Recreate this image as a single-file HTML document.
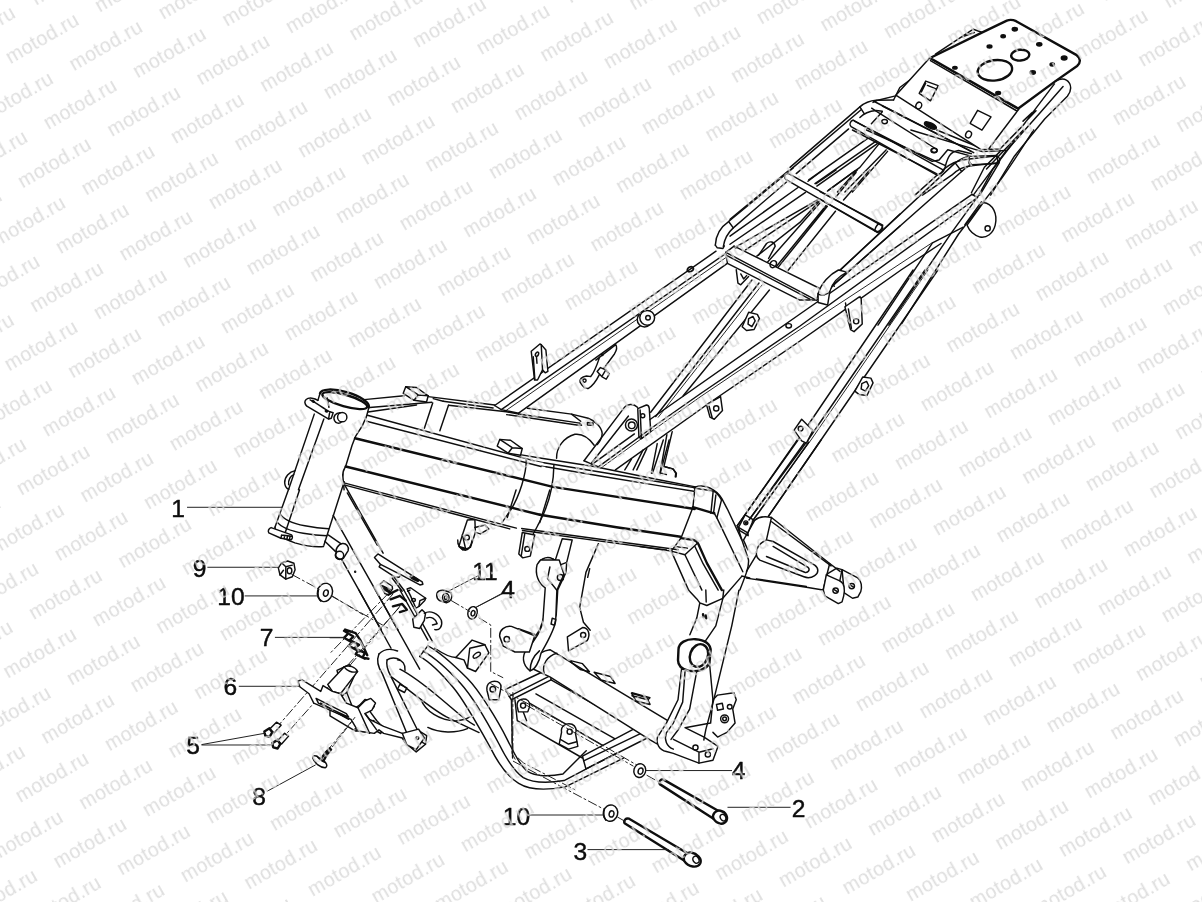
<!DOCTYPE html>
<html><head><meta charset="utf-8"><title>Frame</title>
<style>
html,body{margin:0;padding:0;background:#fff;}
body{width:1202px;height:902px;overflow:hidden;font-family:"Liberation Sans",sans-serif;}
svg{display:block;position:absolute;left:0;top:0;}
.d *{vector-effect:non-scaling-stroke;}
.d{fill:none;stroke:#0e0e0e;stroke-width:1.45;stroke-linecap:round;stroke-linejoin:round;}
.d .k{stroke-width:2.4;}
.d .t{stroke-width:0.9;}
.d .w{fill:#fff;}
.d .b{fill:#0e0e0e;}
.d .ld{stroke-width:1;stroke:#222;}
.d .dd{stroke-width:1;stroke:#222;stroke-dasharray:9 3 2 3;}
.lb text{font-family:"Liberation Sans",sans-serif;font-size:24.6px;fill:#0c0c0c;stroke:#0c0c0c;stroke-width:0.45;}
</style></head><body>
<svg width="1202" height="902" viewBox="0 0 1202 902">
<defs>
<pattern id="wm" width="103.1" height="75.84" patternUnits="userSpaceOnUse" patternTransform="translate(-4.40 38.32) rotate(-30)">
<g font-family="Liberation Sans, sans-serif" font-size="19.6" fill="#d8d8d8" letter-spacing="0.45">
<text x="0" y="30">motod.ru</text>
<text x="51.55" y="67.92">motod.ru</text>
<text x="-51.55" y="67.92">motod.ru</text>
</g>
</pattern>
</defs>
<rect x="0" y="0" width="1202" height="902" fill="#fff"/>
<g class="d">
<g transform="translate(260 385) scale(0.116473)">
<!-- rim -->
<path class="k" d="M515 71 A218 72 16 0 1 935 191"/>
<ellipse class="k" cx="728" cy="134" rx="200" ry="50" transform="rotate(16 728 134)"/>
<path d="M515 73 L497 132 M578 112 L592 192"/>
<!-- clamp tab -->
<path d="M497 132 C470 112 420 104 396 124 C378 142 384 162 402 182 L590 292 L612 285 L628 238 L600 230"/>
<path d="M430 128 C480 150 540 198 600 230 M597 242 L589 290"/>
<ellipse class="b" cx="458" cy="141" rx="11" ry="6" transform="rotate(25 458 141)"/>
<ellipse class="b" cx="570" cy="225" rx="10" ry="5" transform="rotate(25 570 225)"/>
<!-- bolt -->
<circle cx="706" cy="276" r="40"/>
<path d="M690 238 C650 236 624 270 640 306 C652 330 682 336 700 316"/>
<!-- tube edges -->
<path d="M466 250 L246 895"/>
<path d="M548 292 L330 900"/>
<path d="M935 193 C925 250 900 310 880 346 C850 400 830 420 818 446 L790 520 L735 700 C720 726 705 742 712 790 L722 900"/>
<!-- lug on left -->
<path d="M302 735 C250 745 210 790 212 840 C214 870 228 888 246 895"/>
<path d="M290 770 C262 780 240 815 246 856"/>
</g>
<g transform="translate(350 380) scale(0.166389)">
<!-- short tube from head tube to cross piece -->
<path d="M85 118 L325 95"/>
<path d="M118 165 L492 134"/>
<path d="M108 192 L400 150"/>
<!-- pad 1 -->
<path class="w" d="M335 40 L400 45 L470 95 L460 132 L385 122 L320 80 Z"/>
<path d="M335 40 L410 90 L470 95 M410 90 L385 122"/>
<!-- far top tube after pad -->
<path d="M470 100 L870 150"/>
<path d="M560 128 L860 168"/>
<path d="M592 152 L940 191 L1013 204"/>
<!-- cross piece -->
<path d="M497 138 L447 290 M592 152 L540 305 M500 112 L560 128"/>
<!-- beam top face near edges (double) -->
<path d="M105 212 L1108 486"/>
<path d="M100 248 L1148 520"/>
<!-- thick side lines -->
<path class="k" d="M30 350 L1219 642"/>
<path class="k" d="M-26 520 L1141 810"/>
<!-- bottom double line -->
<path d="M-36 618 L700 812 L1000 890"/>
<path d="M-30 632 L690 822 L960 895"/>
<!-- curved seams -->
<path d="M1060 478 C1060 560 1020 700 960 790 C940 820 925 840 915 855"/>
<!-- pad 2 -->
<path class="w" d="M900 357 L965 362 L1035 412 L1025 452 L950 440 L885 397 Z"/>
<path d="M900 357 L975 407 L1035 412 M975 407 L950 440"/>
<!-- diagonal rail start -->
</g>
<g transform="translate(250 480) scale(0.166389)">
<!-- head tube edges lower -->
<path d="M232 55 L150 284"/>
<path d="M298 59 L207 330"/>
<path d="M566 10 L444 392"/>
<!-- bands -->
<path d="M178 200 C200 235 260 262 330 275 C390 286 440 291 472 293"/>
<path d="M162 250 C185 282 250 308 320 320 C380 330 430 334 462 335"/>
<path d="M150 284 C150 320 200 355 270 378 C340 398 400 404 442 400"/>
<!-- tab bottom-left -->
<path class="w" d="M127 286 L250 330 C258 340 256 352 246 360 L186 350 L113 318 C106 306 112 292 127 286 Z"/>
<path d="M186 350 L190 330 M205 352 L208 334 M222 355 L225 338 M238 358 L240 340 M190 330 L250 338"/>
<!-- small stub -->
<path d="M470 330 L548 384 M450 368 L516 432"/>
<path class="w" d="M520 436 C510 420 530 385 556 382 C580 380 596 400 590 424 L562 470 C545 485 515 470 514 450 Z"/>
<circle cx="538" cy="453" r="25"/>
<!-- down tube lines -->
<path d="M500 212 L890 902"/>
<path d="M549 474 L790 902"/>
<path d="M566 25 L800 440"/>
<path d="M585 78 L765 392"/>
<circle class="b" cx="632" cy="551" r="3"/>
<!-- leader lines -->
<path class="ld" d="M-376 164 L192 164"/>
</g>
<g transform="translate(500 400) scale(0.166389)">
<!-- thick side lines -->
<path class="k" d="M318 522 L1170 655"/>
<path class="k" d="M240 690 L700 765 L1085 822"/>
<!-- top face near edge -->
<path class="t" d="M215 366 L262 376 M250 396 L276 401" />
<path d="M264 377 L601 433 L962 493 L1175 528"/>
<path d="M276 401 L601 457 L962 516 L1165 548"/>
<path d="M129 330 L240 349 L565 400 L962 481 L1175 522"/>
<!-- bottom line -->
<path d="M130 772 L700 850 L1072 900"/>
<path d="M135 784 L690 860 L1000 902"/>
<!-- seams -->
<path d="M324 390 C322 520 290 640 232 745 C205 795 175 850 150 902"/>
<!-- plate / cylinder behind -->
<path d="M112 84 L480 139 M40 88 L472 152 L490 152 L480 139"/>
<path d="M165 50 L430 85 L530 110 C570 125 610 160 614 200 C614 230 600 250 585 268"/>
<path d="M430 85 L485 128 M525 135 L560 138 L558 152 L525 150 Z"/>
<path d="M340 350 C338 290 380 225 450 206 C500 200 540 235 566 272"/>
<!-- link arm -->
<path d="M505 365 L742 52 C762 22 802 18 826 44"/>
<path d="M548 382 L772 96"/>
<path d="M505 365 L548 384 L600 405"/>
<!-- rails up-right -->
<!-- pivot -->
<circle cx="790" cy="150" r="36"/>
<circle cx="792" cy="152" r="20"/>
<!-- bracket tab -->
<path class="w" d="M828 52 L880 30 C892 30 896 40 897 50 L906 190 L850 232 L835 225 Z"/>
<circle cx="858" cy="95" r="12"/>
<path d="M850 232 L842 60"/>
<!-- struts at right -->
<path d="M1035 190 L985 400 M1003 208 L962 438 M945 262 L910 440 M882 292 L822 420 M860 300 L800 420 M790 356 L750 420"/>
<path d="M985 400 L1040 415 L1060 440 L1058 462 M962 438 L1000 448"/>
<!-- top face far edge -->
</g>
<g transform="translate(640 440) scale(0.166389)">
<!-- top edges into rear corner -->
<path d="M330 284 C390 262 455 295 492 352 L525 415 L612 600 L652 720 C656 760 640 800 600 902"/>
<path d="M325 288 L440 306 C462 318 478 338 490 360"/>
<path d="M330 286 L318 405 M440 306 L426 440 M456 330 L442 440 M490 360 L462 468"/>
<path class="k" d="M318 404 L430 436 L446 440"/>
<path d="M462 468 L618 792 M446 440 L462 468"/>
<path d="M318 405 L246 590"/>
<!-- lower rear corner -->
<path class="k" d="M246 590 L320 600 C338 604 345 612 350 624 L402 740 L492 902"/>
<path d="M246 590 L188 668 M0 640 L188 668 L270 690 L345 620 M270 690 L372 902 M188 668 L292 902"/>
<path d="M210 640 L285 650 M330 640 L380 745 L470 902"/>
<!-- small bolt top-left -->
<path d="M75 200 L140 0 M120 205 L175 0 M150 160 L200 175 L215 200 L212 222"/>
<!-- rear rail -->
<path d="M945 0 L585 515 M1000 0 L655 480 M1015 12 L668 500 M1088 0 L772 458"/>
<path d="M585 515 L612 600 M690 482 L622 602 L648 660"/>
<!-- bracket on rail -->
<path class="w" d="M632 450 L682 480 L648 558 L592 525 Z"/>
<circle cx="636" cy="498" r="12"/><circle class="b" cx="636" cy="498" r="4"/>
<path d="M592 525 L600 545 L650 575 L648 558"/>
<!-- gusset -->
<path d="M690 482 C710 465 740 455 790 466 L1140 742 L1202 790"/>
<path d="M790 466 L760 600 C720 620 695 650 700 690 L640 790 M760 600 L800 610 L1050 752 C1075 770 1075 800 1050 815 C1030 828 1005 830 985 822 L720 722 C705 710 700 700 700 690"/>
<path d="M800 640 L1010 765 C1025 780 1010 800 990 795 L760 700"/>
<path d="M640 830 L1000 885 L1100 902 M1140 742 L1100 902 M700 835 L1000 880"/>
</g>
<g>
<path d="M494.6 405.5 L716 251.2"/>
<path d="M501.3 409.6 L725.5 253.7"/>
<path class="t" d="M504.6 411.5 L727 256.8"/>
<path d="M518.6 413.2 L728 262.9"/>
<path d="M494.6 405.5 L501.3 409.6 L518.6 413.2"/>
</g>
<g transform="translate(480 330) scale(0.133111)">
<!-- tab -->
<path class="w" d="M385 160 L450 105 L460 110 L495 150 L510 310 L490 322 L470 300 L432 376 L410 376 Z"/>
<path d="M460 110 L470 300 M400 200 L412 370"/>
<ellipse cx="428" cy="182" rx="11" ry="17" transform="rotate(25 428 182)"/>
<path d="M424 198 L428 250"/>
<!-- hook bracket -->
<path d="M870 226 L1020 110 C1030 125 1028 150 1010 180 L900 330 C880 370 850 420 812 440 C790 442 770 425 752 392 C748 370 765 352 800 345 C815 345 825 350 832 350 C850 330 870 290 900 200"/>
<circle cx="785" cy="380" r="12"/>
<path class="w" d="M905 282 L945 300 L972 330 L948 370 L915 350 L880 312 Z"/>
<path d="M945 300 L918 345"/>
<circle class="b" cx="918" cy="186" r="6"/>
</g>
<g>
<!-- near rail -->
<path d="M592 464.4 L634.4 433.9 M650 419.5 L800 314 L972 194.3"/>
<path d="M599 466.4 L651.6 428 L700 394 L800 326 L977.5 197.5"/>
<path class="t" d="M601 468 L652 431 L700 397 L800 329.5 L932.5 242.5"/>
<path d="M615.4 469.8 L710 402.5 L800 341 L842.8 311.1 L901 270 L941 243.5"/>
<path d="M972 194.3 L977.5 197.5"/>
<!-- diagonal brace from bracket to CM1 -->
<path d="M650.7 412.3 L752 280"/>
<path d="M655.7 416.5 L759 283"/>
<path class="t" d="M658.2 417.3 L762 285"/>
<path d="M683.2 395.7 L769.4 290"/>
<!-- rear rail (long) -->
<path d="M913.1 270 L798 440 L737.3 525.7"/>
<path d="M925 270 L808 440 L749 520"/>
<path class="t" d="M928 270 L811 440 L752 521"/>
<path d="M937.9 270 L821 440 L768.5 516.2"/>
</g>
<g>
<circle class="w" cx="644.6" cy="319.6" r="7.4"/>
<circle class="w" cx="647.2" cy="317.8" r="7.4"/>
<circle cx="648" cy="317.8" r="2.3"/>
<ellipse cx="690.3" cy="269.3" rx="3.2" ry="2.3" transform="rotate(-30 690.3 269.3)" style="stroke-width:1.8"/>
</g>
<g transform="translate(790 80) scale(0.124792)">
<!-- left seat tube upper -->
<path d="M0 700 L560 215 C600 180 640 165 690 162 L830 160"/>
<path d="M0 722 L572 236"/>
<path d="M50 750 L470 392 M560 300 C590 270 640 250 690 245 L740 250 M560 215 L592 266"/>
<!-- braces below CB2 -->
<path d="M150 800 L620 470"/>
<path d="M200 830 L690 490 M215 850 L700 510"/>
<path d="M300 890 L560 700 L715 510"/>
<path d="M380 897 L540 720 M440 897 L770 560 M500 897 L782 572"/>
<!-- bent plate edges -->
<path d="M665 180 L690 165 M740 255 L652 350 M830 160 L880 60 L960 0"/>
</g>
<g transform="translate(730 170) scale(0.124792)">
<!-- braces between CM1 and CB1 (drawn before cross bars so bars cover) -->
<path d="M0 395 L470 5"/>
<path d="M0 530 L545 140 M625 90 L745 0"/>
<path d="M0 595 L605 180 M690 110 L850 0"/>
<path d="M55 612 L705 238 M790 160 L1005 5"/>
<path d="M125 640 L700 255"/>
<path d="M215 690 L560 420 L715 250"/>
<path d="M300 740 L720 265"/>
<path d="M385 780 L780 290 M370 775 L770 285"/>
<path d="M445 830 L845 330 M910 240 L1120 0"/>
<path d="M850 215 L1010 20"/>
</g>
<g transform="translate(700 150) scale(0.166389)">
<!-- left seat tube lower end -->
<path d="M92 572 C95 500 135 455 172 430 L560 108"/>
<path d="M140 580 C148 530 170 495 200 468 L520 192"/>
<path d="M92 572 L104 588 L138 592 L146 576 M172 430 L200 468"/>
<!-- cross bar 1 -->
<path class="w" d="M530 140 C508 140 503 166 515 176 L1060 492 L1066 496 C1090 492 1104 472 1095 456 Z"/>
<path d="M1072 444 C1060 456 1050 475 1052 488"/>
<!-- big cross member CM1 -->
<path class="w" d="M155 615 L205 578 L760 852 L700 902 L600 902 L165 682 Z"/>
<path d="M155 615 L690 898 M165 636 L660 896 M205 578 L215 590"/>
<!-- boss on CM1 -->
<path d="M352 632 L400 562 C420 545 446 550 452 578 L412 652"/>
<ellipse cx="440" cy="686" rx="18" ry="22" transform="rotate(30 440 686)"/>
<!-- tab under CM1 -->
<path d="M218 720 L228 800 L245 810 L292 760"/>
<path d="M245 745 L262 775 L280 755"/>
<!-- right seat tube lower end -->
<path d="M700 902 C712 850 742 800 790 770 L1202 385"/>
<path d="M750 902 C762 855 782 822 812 802 L1202 457"/>
<path d="M790 770 L812 802"/>
<!-- near rail under right tube -->
</g>
<g transform="translate(820 130) scale(0.216306)">
<!-- right seat tube -->
<path d="M0 742 C10 712 30 695 53 685 L625 152 C645 135 668 125 692 122 L815 118"/>
<path d="M15 792 C30 755 50 728 70 709 L655 192 C672 175 688 165 702 160 L818 155"/>
<path d="M625 152 L655 192 M40 690 L66 722 M692 122 C684 135 690 152 702 160 M815 118 L822 140 L818 155"/>
<!-- brace tube below -->
<!-- rear rail upper -->
<path d="M988 0 C930 90 860 200 820 250 L740 352 L640 482 L378 895"/>
<path d="M900 50 L800 180 L735 300 L610 472 L318 902"/>
<path d="M832 100 L760 172 L700 290 M660 450 L520 522 L268 902"/>
<path d="M940 0 L770 180"/>
<!-- D tab -->
<path class="w" d="M755 335 C800 340 822 390 810 440 C800 480 770 500 740 495 C710 485 690 465 680 440 Z"/>
<path d="M670 438 L746 332"/>
<circle cx="775" cy="455" r="12"/>
<!-- cross bars -->
<path d="M150 0 L545 205 M215 0 L580 165 M545 205 C565 200 578 185 580 165"/>
<path d="M0 285 L290 440 M0 320 L265 470 M290 440 C288 455 278 468 265 470"/>
<!-- plate bits top -->
<path d="M420 0 L750 100 L860 95 M540 0 L760 90 M580 165 C590 130 600 100 640 95 L700 110"/>
<ellipse cx="527" cy="95" rx="14" ry="10"/><ellipse cx="687" cy="18" rx="14" ry="10"/>
<!-- x braces left -->
<!-- bottom-left tab -->
<path d="M118 800 L132 890 L150 902 M185 770 L192 880 L170 902"/>
<ellipse cx="165" cy="880" rx="10" ry="14"/>
</g>
<g transform="translate(700 270) scale(0.216306)">
<!-- u-clip on diagonal brace -->
<path class="w" d="M225 195 L265 205 L275 225 L250 275 L215 280 L195 262 Z"/>
<path d="M225 225 L245 215 L255 235 L240 262 L222 250 Z"/>
<!-- tab hanging from near rail -->
<path class="w" d="M670 170 L735 125 L745 130 L750 250 L712 285 L696 276 Z"/>
<circle cx="722" cy="237" r="12"/>
<path d="M686 180 L700 270"/>
<!-- tab under near rail left -->
<path class="w" d="M30 622 L95 585 L104 650 L66 690 L46 680 Z"/>
<circle cx="75" cy="640" r="12"/>
<path d="M42 630 L56 682"/>
<!-- u-clip on rear rail -->
<path class="w" d="M752 495 L790 500 L800 522 L772 580 L736 576 L716 560 Z"/>
<path d="M748 525 L770 515 L780 535 L765 560 L745 550 Z"/>
<!-- plate on rear rail left -->
<path class="w" d="M435 740 L470 690 L522 742 L492 800 L470 790 Z"/>
<circle cx="465" cy="733" r="11"/>
<!-- hole on near rail -->
<ellipse cx="410" cy="258" rx="13" ry="10"/>
<!-- right seat tube lower end -->
<path class="w" d="M640 0 C600 20 560 60 546 110 L546 150 L590 162 L600 100 C610 60 640 30 680 10 Z"/>
<path d="M546 110 C560 120 585 118 600 100"/>
</g>
<g transform="translate(850 0) scale(0.216306)">
<!-- behind layer -->
<path d="M395 250 L570 135 L612 150 M520 170 L575 150"/>
<!-- lower (folded) plate -->
<path class="w" d="M368 268 L212 440 L606 692 L640 690 L780 505 Z"/>
<path d="M350 375 L408 396 L372 466 L320 432 Z M358 395 L395 410 M330 425 L350 385"/>
<path d="M590 510 L652 540 L610 602 L555 570 Z"/>
<ellipse cx="318" cy="488" rx="13" ry="16" transform="rotate(25 318 488)"/>
<ellipse cx="548" cy="622" rx="13" ry="16" transform="rotate(25 548 622)"/>
<!-- upper plate -->
<path class="w k" d="M370 268 L612 150 L725 95 C740 90 755 92 768 98 L1048 255 C1066 268 1068 290 1050 305 L950 375 L778 502 Z"/>
<path d="M372 280 L770 512"/>
<ellipse class="k" cx="670" cy="325" rx="80" ry="47" transform="rotate(-8 670 325)"/>
<ellipse class="k" cx="787" cy="255" rx="42" ry="25" transform="rotate(-5 787 255)"/>
<g class="b"><ellipse cx="762" cy="135" rx="12" ry="8"/><ellipse cx="708" cy="168" rx="10" ry="7"/><ellipse cx="645" cy="215" rx="11" ry="7"/><ellipse cx="875" cy="205" rx="12" ry="8"/><ellipse cx="990" cy="268" rx="13" ry="9"/><ellipse cx="935" cy="298" rx="10" ry="7"/><ellipse cx="845" cy="335" rx="12" ry="8"/><ellipse cx="485" cy="313" rx="10" ry="6"/><ellipse cx="685" cy="430" rx="11" ry="7"/></g>
<!-- bent plate on seat tube -->
<path d="M110 468 L215 442 M110 468 L572 706 M100 500 L130 520 L400 690 M560 722 L452 692 L412 740 L380 746 L20 560"/>
<ellipse cx="160" cy="562" rx="13" ry="10"/>
<ellipse class="b" cx="372" cy="580" rx="30" ry="12" transform="rotate(25 372 580)"/>
<ellipse cx="390" cy="695" rx="13" ry="10"/>
<path d="M150 490 L560 700"/>
<!-- cross bar 2 -->
<path d="M15 555 L430 785 M5 585 L402 810 M15 555 C0 560 -5 578 5 585 M430 785 C425 800 415 808 402 810"/>
<!-- left seat tube top bend -->
<!-- right rail -->
<path d="M950 375 C975 362 1000 362 1015 385 C1025 405 1018 428 1005 445 L900 550 L760 722 L650 902"/>
<path d="M945 388 L860 500 L800 580 L690 692 M985 400 L880 520 L720 700 L570 902 M842 520 L800 560 M860 512 L818 556"/>
<!-- right seat tube stub -->
<path d="M430 785 C470 750 510 738 552 735 L680 720 C694 730 696 745 688 752 L560 766 C520 770 490 790 470 810 L335 902"/>
<path d="M552 735 C545 745 548 758 560 766 M402 810 L300 902 M640 690 L690 690 M600 902 L690 752"/>
</g>
<g transform="translate(400 490) scale(0.249584)">
<!-- back plate lines -->
<path d="M795 215 L745 330 L720 470 L735 530 L762 562 M465 0 L430 110 M600 0 L560 130 M760 315 L752 350"/>
<!-- tab A -->
<path class="w" d="M270 120 L300 118 L302 170 L282 230 L252 240 L236 226 L250 180 Z"/>
<circle cx="268" cy="190" r="10"/>
<path d="M300 150 L340 140 L356 156 L322 176 L302 170 M250 180 L262 232"/>
<!-- tab B -->
<path class="w" d="M490 170 L540 180 L522 265 L492 272 L476 256 Z"/>
<circle cx="510" cy="236" r="10"/>
<path d="M500 175 L486 262"/>
<!-- pivot left plate, upper -->
<path class="w" d="M650 195 L690 200 L668 290 L665 330 L632 400 L626 500 L602 570 L572 620 L520 640 L520 620 L560 560 L580 500 L590 395 L556 350 L550 310 C552 280 585 262 612 276 L622 282 Z"/>
<path d="M612 276 L642 300 L668 290 M590 395 L600 330 L642 300"/>
<circle cx="643" cy="352" r="12"/>
<path d="M610 505 L622 508 L618 530 L606 527 Z"/>
<!-- leaders -->
<path class="ld" d="M195 405 L310 345 M305 470 L420 408"/>
</g>
<g transform="translate(480 560) scale(0.232945)">
<!-- back plate left edge and right edges -->
<!-- cradle rails -->
<path d="M110 555 L290 470 L302 480 L305 515 L135 600 L125 585 L300 497"/>
<path d="M110 555 L125 585"/>
<path d="M302 480 L700 705 M305 515 L640 705 M240 575 L610 785 M205 610 L560 815"/>
<path class="w" d="M440 842 L700 705 L720 730 L722 762 L455 897 L445 862 Z"/>
<path d="M445 862 L720 730"/>
<path d="M150 600 L160 690 M135 600 L140 850 M160 690 L440 850 M185 650 L200 690"/>
<!-- big pivot tube -->
<path class="w" d="M300 385 L815 695 L800 812 L730 772 L300 502 L228 468 C215 440 240 395 300 385 Z"/>
<path d="M330 400 C290 410 265 450 275 485"/>
<!-- clips on tube -->
<path d="M380 430 L440 445 L470 480 L430 470 Z M490 482 L560 500 L580 530 L520 515 Z M650 572 L715 590 L730 620 L670 605 Z"/>
<!-- left pivot plate -->
<path class="w" d="M245 20 C235 60 250 100 280 120 L270 260 C265 300 240 340 200 385 C180 410 180 450 215 476 C235 470 255 440 262 400 C290 350 320 300 325 260 L330 130 L360 60 L340 0 L260 0 Z"/>
<path d="M300 30 L290 80 L330 130 M215 476 C215 440 232 410 255 390"/>
<circle cx="345" cy="75" r="13"/>
<path d="M310 250 L325 255 L320 280 L305 275 Z"/>
<!-- left tab -->
<path class="w" d="M85 330 C80 300 110 280 135 285 L235 325 L212 395 L150 395 L100 370 Z"/>
<circle cx="115" cy="340" r="12"/>
<path d="M165 295 L235 320"/>
<!-- center tab -->
<path class="w" d="M375 330 L440 290 C465 290 476 320 460 346 L380 390 Z"/>
<circle cx="443" cy="322" r="11"/>
<!-- right pivot boss & plate -->
<path class="w" d="M865 470 L850 600 L800 700 L762 760 C755 790 770 815 800 822 L830 830 L940 872 L1000 860 L1022 800 L962 760 L880 720 L990 700 L1000 600 L985 440 Z"/>
<path d="M880 480 L870 610 L830 700 L800 742 C790 770 800 800 830 812 M930 480 L900 640 L850 730 L820 770"/>
<path d="M830 770 L940 825 L1000 810 M940 825 L940 872"/>
<circle cx="925" cy="805" r="11"/><circle cx="978" cy="835" r="11"/>
<path class="w k" d="M852 385 C852 355 885 338 925 340 C965 342 992 362 990 392 L985 440 C975 470 930 482 895 475 C865 468 850 450 850 430 Z"/>
<ellipse class="k" cx="940" cy="410" rx="38" ry="50" transform="rotate(20 940 410)"/>
<!-- right side bracket -->
<path d="M1000 600 L1020 580 L1090 570 L1100 600 L1085 640 L1095 700 L1060 740 L1020 760 L1000 740"/>
<circle cx="1050" cy="682" r="17"/><circle cx="1050" cy="682" r="8"/>
<path d="M1015 620 L1040 615 L1045 640 L1020 645 Z"/><circle cx="1072" cy="630" r="10"/>
<!-- engine mount tabs -->
<path class="w" d="M30 560 C25 530 50 515 75 522 C90 528 92 545 88 560 L80 600 L40 600 Z"/>
<circle cx="55" cy="555" r="12"/>
<path class="w" d="M160 630 C155 605 175 592 198 598 C212 604 215 620 212 632 L205 652 L165 652 Z"/>
<circle cx="185" cy="625" r="11"/>
<path class="w" d="M350 740 C345 712 370 698 395 705 C412 712 416 730 410 745 L420 800 L380 812 L340 790 Z"/>
<circle cx="385" cy="737" r="11"/>
<path d="M345 770 L380 790 L415 780"/>
<!-- dash-dot axis lines -->
<path class="dd" d="M416 731 L690 890"/>
<!-- leader for 4 -->
</g>
<g transform="translate(330 590) scale(0.232945)">
<!-- down tube continuation -->
<path d="M124 0 L262 250 M195 0 L385 340 M317 0 L440 222 M300 0 L420 215"/>
<!-- left rect tube with end cap -->
<path d="M210 275 C200 300 205 330 225 360 L340 640 M245 300 C240 320 250 350 262 372 L375 600"/>
<path class="w" d="M330 640 L375 600 L415 625 L410 662 L370 695 L330 662 Z"/>
<path d="M375 600 L372 640 L410 662 M372 640 L330 662"/>
<circle cx="382" cy="633" r="7"/>
<path d="M210 275 C230 255 260 250 290 262 M245 300 C262 288 285 290 300 300"/>
<!-- tube T_B going right behind -->
<path d="M300 340 C360 370 420 420 480 470 C540 520 580 560 620 580 M262 372 C330 420 420 500 500 545 C550 570 590 590 640 612"/>
<path d="M290 300 C310 300 325 320 322 345 M300 405 L330 420 L320 440 L290 425 Z"/>
<!-- arcs (boss behind) -->
<path d="M390 470 C410 520 470 560 540 562 C570 560 590 552 600 545 M420 590 C470 615 540 615 590 595"/>
<!-- big cradle tube -->
<path d="M385 285 C430 310 480 360 530 420 C580 480 640 590 690 680 C720 740 760 800 810 830 C850 855 920 862 1010 845 L1260 722"/>
<path d="M420 240 C470 265 540 330 590 380 C640 430 720 560 760 640 C790 700 820 760 850 780 C880 800 940 802 1000 790 L1100 690"/>
<path d="M400 262 C450 290 510 345 560 400 C610 455 680 575 725 660 C755 720 790 780 830 805 C865 825 930 830 1005 818 L1230 700"/>
<path d="M385 285 L420 240"/>
<!-- z bracket -->
<path class="w" d="M540 290 L610 215 L665 235 L682 270 L625 350 L590 335 L575 300 Z"/>
<ellipse cx="630" cy="280" rx="18" ry="9" transform="rotate(-35 630 280)"/>
<path d="M590 335 L600 250 L665 235 M450 250 C480 270 520 290 540 290"/>
<!-- small bracket + clamp on down tube -->
<path class="w" d="M355 125 L395 85 L410 100 L405 130 L385 165 L360 160 Z"/>
<path d="M405 100 C430 85 465 100 478 130 C485 155 470 175 450 170 M415 120 C435 112 455 125 460 145 L440 150"/>
<!-- clips top -->
<path class="k" d="M250 20 L290 0 M260 40 L300 25 L325 45 M270 70 L310 60 L330 85 L300 95"/>
<!-- spring clip 7 -->
<g class="k"><path d="M60 175 L100 200 L85 215 L125 235 L105 250 L150 270 L140 290 L165 295 M75 190 L60 205 L95 225 L80 240 L120 260 L110 275 L150 295 M65 170 L110 185 L130 215 L160 280"/></g>
<!-- bracket 6 plate -->
<path class="w" d="M0 440 L40 462 L52 432 L30 345 L82 320 L112 352 L72 440 L100 512 L130 492 L150 470 L185 480 L190 500 L172 522 L200 560 L228 590 L218 616 L192 602 L165 612 L100 600 L0 540 Z"/>
<path d="M40 462 L72 440 M100 512 L120 600 M130 492 L160 600 M0 470 L90 520 M0 510 L80 555"/>
<circle cx="112" cy="600" r="6"/><circle cx="185" cy="565" r="5"/>
<!-- washers 11 and 4 -->
<path class="w" d="M458 22 C458 5 475 -2 492 2 L520 12 C528 30 520 50 500 55 L470 45 C460 40 458 32 458 22 Z"/>
<ellipse cx="497" cy="32" rx="14" ry="17"/><ellipse cx="497" cy="33" rx="6" ry="8"/>
<ellipse class="w" cx="612" cy="98" rx="20" ry="27" transform="rotate(15 612 98)"/><ellipse cx="614" cy="100" rx="8" ry="12" transform="rotate(15 614 100)"/>
<!-- dash-dot lines -->
<path class="dd" d="M520 45 L600 92 M640 120 L690 150 L690 350 L742 376 M690 402 L1060 602 M785 440 L785 700 L830 742 L1060 862 M0 20 L140 105 M250 15 L0 272 M300 70 L0 425"/>
<!-- leaders -->
<path class="ld" d="M630 72 L742 15 M0 205 L62 205"/>
</g>
<g transform="translate(160 540) scale(0.232945)">
<!-- nut 9 -->
<path class="w" d="M508 120 L522 98 L548 90 L575 100 L580 128 L568 158 L540 168 L515 150 Z"/>
<path d="M522 98 L540 115 L568 108 M540 115 L540 168 M515 150 L530 130"/>
<ellipse cx="556" cy="132" rx="10" ry="13"/>
<!-- washer 10 -->
<ellipse class="w" cx="708" cy="225" rx="32" ry="40" transform="rotate(15 708 225)"/>
<ellipse cx="712" cy="228" rx="10" ry="14" transform="rotate(15 712 228)"/>
<path d="M690 262 C680 250 676 232 680 215"/>
<!-- dash-dot -->
<path class="dd" d="M566 148 L690 215 M735 240 L985 382 M1000 232 L505 800 M1025 292 L540 835 M830 770 L720 902"/>
<!-- screws 5 -->
<g><path class="w" d="M470 812 L500 782 L520 795 L490 828 Z"/><path class="k" d="M448 822 L470 808 L482 826 L470 845 L452 840 Z"/>
<path class="w" d="M505 862 L535 830 L552 842 L522 876 Z"/><path class="k" d="M482 872 L505 858 L516 876 L505 895 L486 890 Z"/></g>
<!-- small cylinder of bracket 6 -->
<path class="w" d="M720 620 L790 545 C810 535 840 545 848 565 L775 660 L740 650 Z"/>
<path d="M790 545 C800 560 825 572 848 565"/>
<!-- bracket 6 upper plate -->
<path class="w" d="M592 605 L610 600 L690 650 L700 625 L740 650 L775 660 L800 700 L850 720 L880 690 L905 680 L925 700 L910 730 L880 745 L900 770 L960 800 L1040 830 L1110 812 L1135 850 L1100 900 L1060 880 L1040 850 L960 830 L940 815 L920 830 L850 820 L820 770 L660 700 L640 660 L600 630 Z"/>
<path d="M670 680 L800 745 L810 760 L680 700 Z M690 700 L800 760"/>
<path d="M850 720 L900 830 M880 745 L930 815 M1040 830 L1060 880"/>
<circle cx="1105" cy="850" r="6"/>
<!-- leaders -->
<path class="ld" d="M205 117 L510 117 M365 240 L680 240 M495 418 L790 418 M340 628 L600 628 M180 878 L448 830 M180 880 L482 880"/>
</g>
<g transform="translate(500 700) scale(0.266223)">
<!-- washer 4 -->
<ellipse class="w" cx="525" cy="265" rx="22" ry="26" transform="rotate(15 525 265)"/>
<ellipse cx="528" cy="267" rx="9" ry="12" transform="rotate(15 528 267)"/>
<!-- bolt 2 -->
<path class="w k" d="M600 316 C595 305 605 296 616 300 L826 420 L802 446 Z"/>
<path class="w k" d="M802 446 C795 430 810 412 828 416 C848 420 858 440 850 455 C840 470 815 468 802 446 Z"/>
<ellipse cx="838" cy="442" rx="10" ry="13" transform="rotate(-30 838 442)"/>
<!-- washer 10 -->
<ellipse class="w" cx="415" cy="425" rx="27" ry="31" transform="rotate(15 415 425)"/>
<ellipse cx="419" cy="428" rx="9" ry="12" transform="rotate(15 419 428)"/>
<path d="M398 452 C390 440 388 425 392 410"/>
<!-- bolt 3 -->
<path class="w k" d="M468 463 C463 452 473 442 485 446 L712 580 L690 602 Z"/>
<path class="w k" d="M692 604 C685 588 700 570 718 573 C740 577 760 596 752 614 C742 632 708 630 692 604 Z"/>
<ellipse cx="736" cy="600" rx="11" ry="14" transform="rotate(-30 736 600)"/>
<!-- dash-dot -->
<path class="dd" d="M100 20 L500 248 M552 283 L600 310 M50 230 L390 410 M442 440 L470 456 M45 0 L45 200 L62 232"/>
<!-- leaders -->
<path class="ld" d="M548 265 L870 265 M856 403 L1090 403 M110 432 L388 432 M330 562 L632 562"/>
</g>
<g transform="translate(230 690) scale(0.183028)">
<path class="w" d="M452 372 C450 360 462 356 475 362 L520 395 C532 408 532 420 520 425 C495 425 462 400 452 372 Z"/>
<path d="M475 362 C490 380 505 392 520 395"/>
<path class="k" d="M498 375 L520 345 L545 318 M512 385 L530 352 L552 325"/>
<path class="dd" d="M560 310 L682 150"/>
<path class="ld" d="M205 552 L466 410"/>
</g>
<g transform="translate(720 500) scale(0.149750)">
<path class="w" d="M815 465 L920 520 C945 540 950 580 940 612 L920 648 L885 656 L830 620 Z"/>
<circle cx="880" cy="575" r="18"/>
<path class="w" d="M710 500 L800 540 C830 555 836 600 826 640 L815 680 L790 692 L700 640 L690 600 Z"/>
<circle cx="772" cy="605" r="18"/>
<path d="M710 500 L722 490 L780 455 L815 465 M800 540 L815 465 M762 598 L784 612 M870 568 L892 582"/>
<path d="M345 145 L742 440"/>
</g>
<g transform="translate(350 540) scale(0.116473)">
<!-- down tube right edge continuation -->
<path d="M380 320 L462 429 M362 326 L448 440"/>
<!-- flat plate with slot -->
<path class="w" d="M210 150 L240 120 L620 360 L626 380 L600 386 L440 300 L420 320 L390 320 L250 230 L262 210 Z"/>
<path d="M262 210 L440 300"/>
<ellipse class="b" cx="552" cy="332" rx="42" ry="10" transform="rotate(28 552 332)"/>
<!-- clip 1 -->
<path class="w" d="M258 380 L290 350 L362 395 L365 420 L330 470 L300 460 Z"/>
<path class="k" d="M275 395 L340 425 M290 420 L335 445"/>
<!-- small bracket with hole -->
<path class="w" d="M490 420 L520 410 L650 500 L642 520 L592 570 L566 586 L520 480 Z"/>
<ellipse cx="546" cy="515" rx="16" ry="13"/>
<path d="M592 570 L600 520 L650 500 M495 440 L515 430"/>
<!-- tab stub top-right -->
<path d="M925 0 C920 40 950 80 990 88 C1020 85 1040 50 1050 0 M950 60 L1000 75"/>
</g>
<g transform="translate(620 560) scale(0.199559)">
<path d="M596 151 L560 330 L470 700 L430 850 L420 902"/>
<path d="M650 90 L610 80 M515 192 L610 82"/>
<path d="M344 151 L385 195 L400 215 L435 228 L515 192 L520 150 M430 150 L432 210 M400 215 L385 290 L350 375 M515 195 L480 330 L425 410"/>
<path class="k" d="M416 272 L418 286 M430 278 L432 292"/>
<path d="M60 665 L150 690 L140 700 L60 680"/>
</g>
<g>
<g class="lb" text-anchor="middle" style="filter:grayscale(1)">
<text x="178" y="516.5">1</text>
<text x="199.6" y="576.8">9</text>
<text x="231" y="605.4">10</text>
<text x="266.6" y="646.2">7</text>
<text x="230.4" y="695">6</text>
<text x="193.2" y="753.5">5</text>
<text x="259" y="805">8</text>
<text x="485" y="579.5">11</text>
<text x="508" y="598">4</text>
<text x="738.6" y="779.3">4</text>
<text x="798.7" y="817">2</text>
<text x="516.5" y="824.5">10</text>
<text x="580.4" y="859.5">3</text>
</g>
</g>
</g>
<rect x="0" y="0" width="1202" height="902" fill="url(#wm)" opacity="0.86"/>
</svg>
</body></html>
